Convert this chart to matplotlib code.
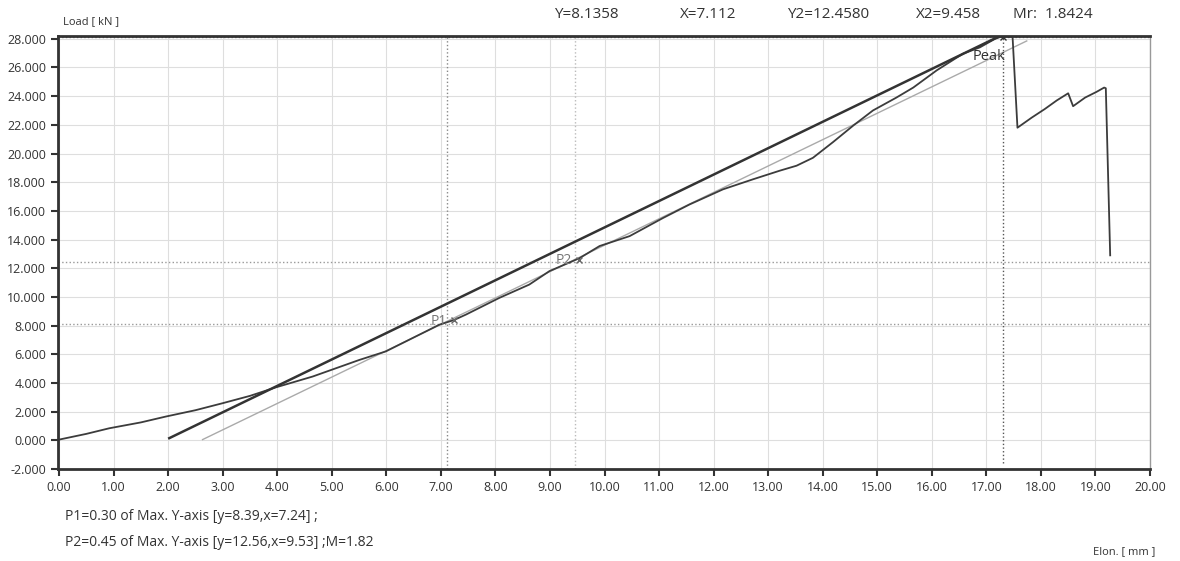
import numpy as np
import matplotlib.pyplot as plt
from matplotlib.ticker import FormatStrFormatter, MultipleLocator

plt.rcParams['font.family'] = ['Open Sans', 'DejaVu Sans']

# load curve, elongation in mm and load in kN
elon = [0.0, 0.5, 0.92, 1.5, 1.96, 2.5, 3.0, 3.5, 3.98, 4.65, 5.5, 5.99, 6.48,
        6.97, 7.24, 7.46, 8.07, 8.62, 8.99, 9.54, 9.91, 10.46, 11.07, 11.56,
        12.17, 12.72, 13.21, 13.52, 13.82, 14.19, 14.56, 14.92, 15.35, 15.66,
        16.09, 16.57, 16.88, 17.16, 17.28, 17.48, 17.57, 17.83, 18.07, 18.29,
        18.5, 18.59, 18.81, 19.02, 19.16, 19.19, 19.27]
load = [0.05, 0.45, 0.84, 1.25, 1.66, 2.1, 2.59, 3.1, 3.7, 4.45, 5.6, 6.2, 7.13,
        8.06, 8.39, 8.77, 9.93, 10.86, 11.8, 12.7, 13.55, 14.24, 15.5, 16.45,
        17.5, 18.2, 18.8, 19.15, 19.7, 20.8, 21.95, 23.0, 23.9, 24.6,
        25.8, 26.96, 27.4, 28.0, 28.16, 28.16, 21.8, 22.5, 23.1, 23.7,
        24.2, 23.3, 23.9, 24.3, 24.6, 24.55, 12.9]

# modulus lines (start / end points)
mr_x = [2.02, 17.25]
mr_y = [0.15, 28.2]
m_x = [2.63, 17.74]
m_y = [0.05, 27.85]

# points
p1 = (7.24, 8.39)
p2 = (9.53, 12.56)
peak = (17.3, 28.16)

# cursor values
cur_x, cur_y = 7.112, 8.1358
cur_x2, cur_y2 = 9.458, 12.458

top_labels = ['Y=8.1358', 'X=7.112', 'Y2=12.4580', 'X2=9.458', 'Mr:  1.8424']
top_pos = [554, 680, 787, 916, 1013]

fig = plt.figure(figsize=(11.8, 5.61), dpi=100)
ax = fig.add_axes([58/1180, 1-469/561, (1150-58)/1180, (469-35.5)/561])

ax.set_xlim(-0.02, 20)
ax.set_ylim(-2, 28.23)
ax.xaxis.set_major_locator(MultipleLocator(1))
ax.yaxis.set_major_locator(MultipleLocator(2))
ax.xaxis.set_major_formatter(FormatStrFormatter('%.2f'))
ax.yaxis.set_major_formatter(FormatStrFormatter('%.3f'))
ax.grid(True, color='#dedede', lw=0.8)
ax.set_axisbelow(True)
ax.tick_params(labelsize=9, length=5, width=1.5, color='#333', labelcolor='#333')

for s in ['left', 'bottom', 'top']:
    ax.spines[s].set_linewidth(2)
    ax.spines[s].set_color('#333')
ax.spines['right'].set_color('#999')
ax.spines['right'].set_linewidth(1)

# cursor / peak lines
ax.axvline(cur_x, color='#888', lw=1, ls=':')
ax.axvline(cur_x2, color='#bbb', lw=1, ls=':')
ax.axhline(cur_y, color='#999', lw=1, ls=':')
ax.axhline(cur_y2, color='#999', lw=1, ls=':')
ax.axhline(peak[1], color='#777', lw=1, ls=':')
ax.plot([peak[0], peak[0]], [-1.6, peak[1]], color='#555', lw=1, ls=':')

ax.plot(m_x, m_y, color='#aaa', lw=1)
ax.plot(elon, load, color='#3c3c3c', lw=1.3)
ax.plot(mr_x, mr_y, color='#333', lw=1.8)

ax.plot(*p1, marker='x', color='#666', ms=5, mew=1)
ax.plot(*p2, marker='x', color='#666', ms=5, mew=1)
ax.plot(*peak, marker='x', color='#333', ms=5, mew=1)
ax.text(p1[0]-0.12, p1[1]-0.1, 'P1', color='#777', fontsize=10, ha='right', va='center')
ax.text(p2[0]-0.12, p2[1]-0.05, 'P2', color='#777', fontsize=10, ha='right', va='center')
ax.text(peak[0]+0.05, 26.8, 'Peak', color='#333', fontsize=10.5, ha='right', va='center')

fig.text(63/1180, 1-22/561, 'Load [ kN ]', fontsize=8, color='#333', va='center')
for lab, px in zip(top_labels, top_pos):
    fig.text(px/1180, 1-15/561, lab, fontsize=11, color='#333', va='center')

fig.text(65/1180, 1-517/561, 'P1=0.30 of Max. Y-axis [y=8.39,x=7.24] ;',
         fontsize=10, color='#333', va='center')
fig.text(65/1180, 1-542/561, 'P2=0.45 of Max. Y-axis [y=12.56,x=9.53] ;M=1.82',
         fontsize=10, color='#333', va='center')
fig.text(1093/1180, 1-552/561, 'Elon. [ mm ]', fontsize=8, color='#333', va='center')

fig.savefig('out.png', dpi=100)
